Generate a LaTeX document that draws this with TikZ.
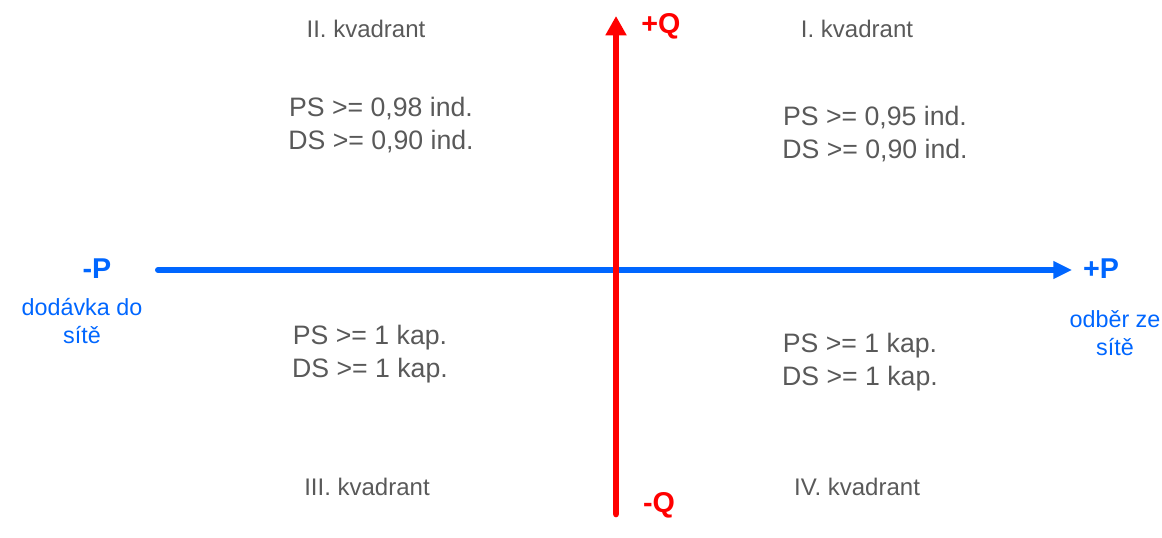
\documentclass[tikz,border=0pt]{standalone}
\usepackage{fontspec}
\setmainfont{Liberation Sans}
\usetikzlibrary{arrows.meta}
\definecolor{axblue}{RGB}{0,102,255}
\definecolor{axred}{RGB}{255,0,0}
\definecolor{txtgray}{RGB}{89,89,89}
\begin{document}
\begin{tikzpicture}[x=0.75pt,y=-0.75pt,
  quad/.style={text=txtgray,font=\fontsize{18}{22}\selectfont,inner sep=0pt},
  cond/.style={text=txtgray,font=\fontsize{20}{24.5}\selectfont,align=center,inner sep=0pt},
  blab/.style={text=axblue,font=\fontsize{17.5}{21}\selectfont,align=center,inner sep=0pt},
  axlabB/.style={text=axblue,font=\bfseries\fontsize{21.5}{24}\selectfont,inner sep=0pt},
  axlabR/.style={text=axred,font=\bfseries\fontsize{21.5}{24}\selectfont,inner sep=0pt},
  axisP/.style={draw=axblue,line width=4.5pt,line cap=round,-{Triangle[length=14pt,width=12.5pt]}},
  axisQ/.style={draw=axred,line width=5pt,line cap=round,-{Triangle[length=14.5pt,width=15pt]}}]
\useasboundingbox (0,0) rectangle (1162,538);
\coordinate (pl) at (158,270);
\coordinate (pr) at (1072,270);
\coordinate (qb) at (616,514);
\coordinate (qt) at (616,16);
\draw[axisP] (pl) -- (pr);
\draw[axisQ] (qb) -- (qt);
\node[axlabR] (qplus) at (661,26) {+Q};
\node[axlabR] (qminus) at (659,505) {-Q};
\node[axlabB] (pminus) at (97,269) {-P};
\node[axlabB] (pplus) at (1101,269) {+P};
\node[blab] (dod) at (82,321) {dodávka do\\sítě};
\node[blab] (odb) at (1115,333) {odběr ze\\sítě};
\node[quad] (k2) at (366,29) {II. kvadrant};
\node[quad] (k1) at (857,29) {I. kvadrant};
\node[quad] (k3) at (367,487) {III. kvadrant};
\node[quad] (k4) at (857,487) {IV. kvadrant};
\node[cond] (c2) at (381,125) {PS >= 0,98 ind.\\DS >= 0,90 ind.};
\node[cond] (c1) at (875,134) {PS >= 0,95 ind.\\DS >= 0,90 ind.};
\node[cond] (c3) at (370,354) {PS >= 1 kap.\\DS >= 1 kap.};
\node[cond] (c4) at (860,362) {PS >= 1 kap.\\DS >= 1 kap.};
\end{tikzpicture}
\end{document}
